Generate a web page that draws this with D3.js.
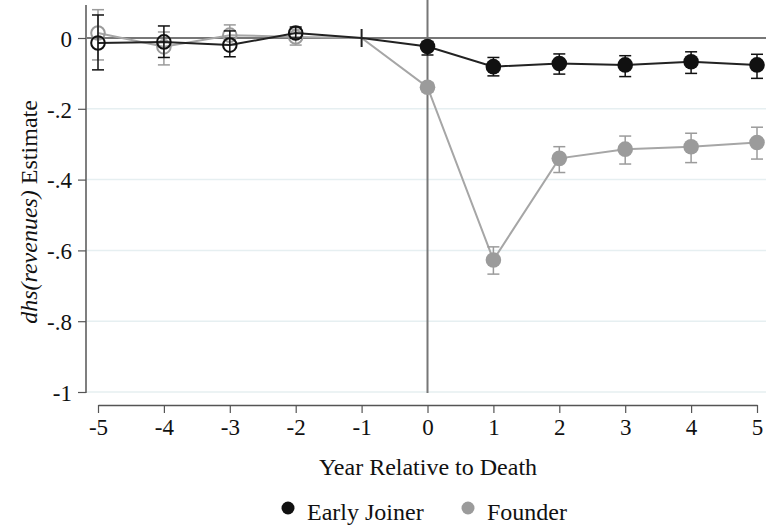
<!DOCTYPE html>
<html><head><meta charset="utf-8">
<script src="https://cdn.jsdelivr.net/npm/d3@7"></script>
<style>body{margin:0;background:#fff}svg{display:block}</style>
</head><body>
<svg id="c" width="772" height="527"></svg>
<script>
const years = [-5,-4,-3,-2,-1,0,1,2,3,4,5];
const yearLabels = ["-5","-4","-3","-2","-1","0","1","2","3","4","5"];
const joinerEst = [-0.014,-0.011,-0.02,0.014,0,-0.024,-0.081,-0.072,-0.076,-0.067,-0.076];
const joinerLo  = [-0.09,-0.055,-0.053,0.0,0,-0.048,-0.107,-0.102,-0.109,-0.1,-0.114];
const joinerHi  = [0.065,0.034,0.02,0.031,0,-0.01,-0.055,-0.045,-0.05,-0.039,-0.046];
const founderEst = [0.014,-0.025,0.008,0.003,0,-0.139,-0.627,-0.34,-0.314,-0.307,-0.295];
const founderLo  = [-0.062,-0.076,-0.02,-0.02,0,-0.152,-0.667,-0.38,-0.356,-0.352,-0.342];
const founderHi  = [0.08,0.017,0.037,0.025,0,-0.126,-0.59,-0.307,-0.277,-0.269,-0.252];
const yTicks = [0,-0.2,-0.4,-0.6,-0.8,-1];
const yTickLabels = ["0","-.2","-.4","-.6","-.8","-1"];
const seriesNames = ["Early Joiner","Founder"];
const colors = ["#111111","#9b9b9b"];

const svg = d3.select("#c");
const font = "Liberation Serif, Times New Roman, serif";
const x = d3.scaleLinear().domain([-5,5]).range([98,757]);
const y = d3.scaleLinear().domain([-1,0]).range([392,38]);

// gridlines
svg.append("g").selectAll("line").data(yTicks.filter(d=>d!==0)).join("line")
  .attr("x1",87).attr("x2",766).attr("y1",d=>y(d)).attr("y2",d=>y(d))
  .attr("stroke","#e6eff1").attr("stroke-width",1.5);

// y axis
const yAx = svg.append("g").attr("transform","translate(86,0)")
  .call(d3.axisLeft(y).tickValues(yTicks).tickFormat((d,i)=>yTickLabels[i]).tickSize(8).tickSizeOuter(0));
yAx.select(".domain").remove();
svg.append("line").attr("x1",86).attr("x2",86).attr("y1",5).attr("y2",393).attr("stroke","#555").attr("stroke-width",1.5);
yAx.selectAll(".tick line").attr("stroke","#555").attr("stroke-width",1.2);
yAx.selectAll(".tick text").attr("font-family",font).attr("font-size",23).attr("fill","#111").attr("x",-14).attr("dy","0.36em");

// x axis
const xAx = svg.append("g").attr("transform","translate(0,405)")
  .call(d3.axisBottom(x).tickValues(years).tickFormat((d,i)=>yearLabels[i]).tickSize(8).tickSizeOuter(0));
xAx.select(".domain").attr("stroke","#555").attr("stroke-width",1.5);
xAx.selectAll(".tick line").attr("stroke","#555").attr("stroke-width",1.2);
xAx.selectAll(".tick text").attr("font-family",font).attr("font-size",23).attr("fill","#111").attr("y",14).attr("dy","0.71em");

// reference lines
svg.append("line").attr("x1",87).attr("x2",766).attr("y1",y(0)).attr("y2",y(0)).attr("stroke","#777").attr("stroke-width",2);
svg.append("line").attr("x1",x(0)).attr("x2",x(0)).attr("y1",0).attr("y2",393).attr("stroke","#777").attr("stroke-width",2);

function drawSeries(est, lo, hi, color, lineColor){
  const g = svg.append("g");
  const pts = years.map((yr,i)=>({yr, e:est[i], lo:lo[i], hi:hi[i]}));
  g.append("path").datum(pts).attr("fill","none").attr("stroke",lineColor).attr("stroke-width",2)
    .attr("d", d3.line().x(d=>x(d.yr)).y(d=>y(d.e)));
  const eb = g.selectAll("g.eb").data(pts.filter(d=>d.yr!==-1)).join("g");
  eb.append("line").attr("x1",d=>x(d.yr)).attr("x2",d=>x(d.yr)).attr("y1",d=>y(d.lo)).attr("y2",d=>y(d.hi)).attr("stroke",color).attr("stroke-width",1.5);
  eb.append("line").attr("x1",d=>x(d.yr)-6).attr("x2",d=>x(d.yr)+6).attr("y1",d=>y(d.lo)).attr("y2",d=>y(d.lo)).attr("stroke",color).attr("stroke-width",1.5);
  eb.append("line").attr("x1",d=>x(d.yr)-6).attr("x2",d=>x(d.yr)+6).attr("y1",d=>y(d.hi)).attr("y2",d=>y(d.hi)).attr("stroke",color).attr("stroke-width",1.5);
  g.selectAll("circle").data(pts.filter(d=>d.yr!==-1)).join("circle")
    .attr("cx",d=>x(d.yr)).attr("cy",d=>y(d.e)).attr("r",d=>d.yr<0?6.8:7.8)
    .attr("fill",d=>d.yr<0?"none":color).attr("stroke",color).attr("stroke-width",d=>d.yr<0?2:0);
}
drawSeries(founderEst, founderLo, founderHi, colors[1], "#a6a6a6");
drawSeries(joinerEst, joinerLo, joinerHi, colors[0], "#222");
// reference marker at -1
svg.append("line").attr("x1",x(-1)).attr("x2",x(-1)).attr("y1",y(0)-9).attr("y2",y(0)+9).attr("stroke","#222").attr("stroke-width",2);

// axis titles
svg.append("text").attr("x",428).attr("y",475).attr("text-anchor","middle").attr("font-family",font).attr("font-size",24).attr("fill","#111").text("Year Relative to Death");
const yt = svg.append("text").attr("transform","translate(37,212) rotate(-90)").attr("text-anchor","middle").attr("font-family",font).attr("font-size",24).attr("fill","#111");
yt.append("tspan").attr("font-style","italic").text("dhs(revenues)");
yt.append("tspan").text(" Estimate");

// legend
const leg = [{n:seriesNames[0],c:colors[0],cx:288,tx:307},{n:seriesNames[1],c:colors[1],cx:468,tx:487}];
leg.forEach(l=>{
  svg.append("circle").attr("cx",l.cx).attr("cy",508).attr("r",6.5).attr("fill",l.c);
  svg.append("text").attr("x",l.tx).attr("y",520).attr("font-family",font).attr("font-size",24).attr("fill","#111").text(l.n);
});
</script>
</body></html>
